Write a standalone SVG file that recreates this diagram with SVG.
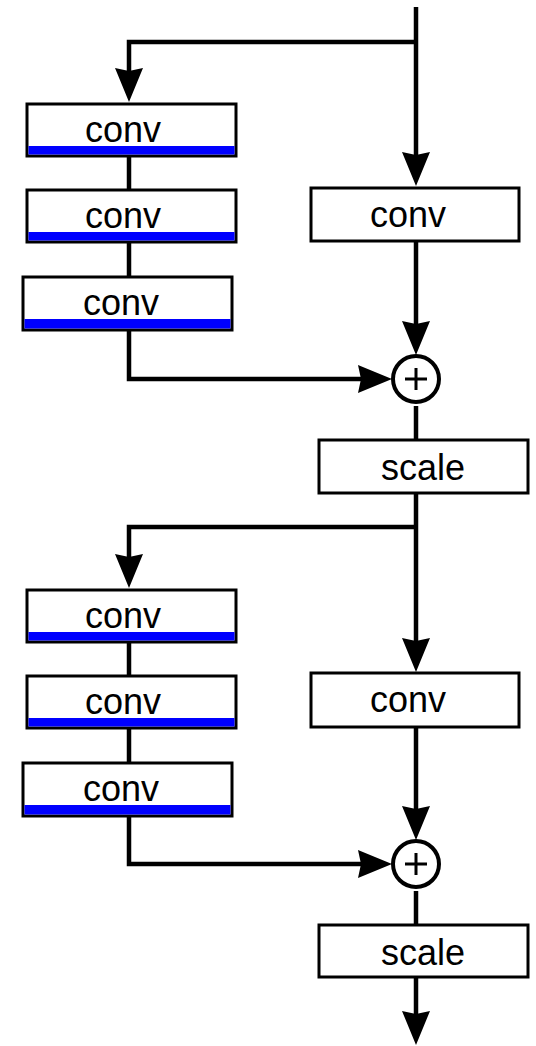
<svg xmlns="http://www.w3.org/2000/svg" width="536" height="1046" viewBox="0 0 536 1046">
<style>
.box{fill:#fff;stroke:#000;stroke-width:3}
.band{fill:#0000ff}
.lbl{font-family:"Liberation Sans",Arial,sans-serif;font-size:36px;fill:#000;text-anchor:middle}
.edge{fill:none;stroke:#000;stroke-width:4.5}
.arr{marker-end:url(#ah)}
.sum{fill:#fff;stroke:#000;stroke-width:4}
.plus{stroke:#000;stroke-width:3}
</style>
<defs>
<marker id="ah" viewBox="0 -14 34 28" refX="3" refY="0" markerWidth="34" markerHeight="28" markerUnits="userSpaceOnUse" orient="auto">
<path d="M0,-14 L34,0 L0,14 L3,0 Z" fill="#000"/>
</marker>
</defs>
<g id="connectors">
<path class="edge arr" d="M416,7 V155"/>
<path class="edge arr" d="M416,42 H129 V71"/>
<path class="edge" d="M129,156 V190"/>
<path class="edge" d="M129,242 V277"/>
<path class="edge arr" d="M129,330 V379 H361"/>
<path class="edge arr" d="M416,241 V324"/>
<path class="edge" d="M416,406 V440"/>
<path class="edge arr" d="M416,493 V641"/>
<path class="edge arr" d="M416,527 H129 V557"/>
<path class="edge" d="M129,642 V676"/>
<path class="edge" d="M129,728 V763"/>
<path class="edge arr" d="M129,816 V864 H361"/>
<path class="edge arr" d="M416,727 V809"/>
<path class="edge" d="M416,891 V925"/>
<path class="edge arr" d="M416,977 V1014"/>
</g>
<g id="conv_a1"><rect class="box" x="27" y="104" width="209" height="52"/><rect class="band" x="28.5" y="146" width="206" height="8.5"/><text class="lbl" x="123" y="142">conv</text></g>
<g id="conv_a2"><rect class="box" x="27" y="190" width="209" height="52"/><rect class="band" x="28.5" y="232" width="206" height="8.5"/><text class="lbl" x="123" y="228">conv</text></g>
<g id="conv_a3"><rect class="box" x="23" y="277" width="209" height="53"/><rect class="band" x="24.5" y="319" width="206" height="9.5"/><text class="lbl" x="121" y="315">conv</text></g>
<g id="conv_ar"><rect class="box" x="311" y="188" width="208" height="53"/><text class="lbl" x="408" y="227">conv</text></g>
<g id="sum_a"><circle class="sum" cx="416" cy="379" r="23"/><path class="plus" d="M405,379 H427 M416,368 V390"/></g>
<g id="scale_a"><rect class="box" x="319" y="440" width="209" height="53"/><text class="lbl" x="423" y="480">scale</text></g>
<g id="conv_b1"><rect class="box" x="27" y="590" width="209" height="52"/><rect class="band" x="28.5" y="632" width="206" height="8.5"/><text class="lbl" x="123" y="628">conv</text></g>
<g id="conv_b2"><rect class="box" x="27" y="676" width="209" height="52"/><rect class="band" x="28.5" y="718" width="206" height="8.5"/><text class="lbl" x="123" y="714">conv</text></g>
<g id="conv_b3"><rect class="box" x="23" y="763" width="209" height="53"/><rect class="band" x="24.5" y="805" width="206" height="9.5"/><text class="lbl" x="121" y="801">conv</text></g>
<g id="conv_br"><rect class="box" x="311" y="673" width="208" height="54"/><text class="lbl" x="408" y="712">conv</text></g>
<g id="sum_b"><circle class="sum" cx="416" cy="864" r="23"/><path class="plus" d="M405,864 H427 M416,853 V875"/></g>
<g id="scale_b"><rect class="box" x="319" y="925" width="209" height="52"/><text class="lbl" x="423" y="965">scale</text></g>
</svg>
